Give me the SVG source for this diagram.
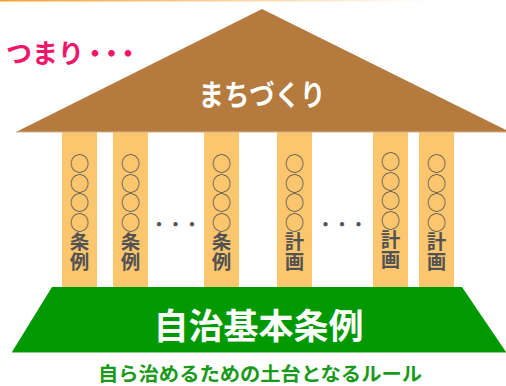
<svg xmlns="http://www.w3.org/2000/svg" width="506" height="386" viewBox="0 0 506 386">
<defs>
<linearGradient id="topline" x1="0" y1="0" x2="1" y2="0">
<stop offset="0" stop-color="#F5A034"/>
<stop offset="0.85" stop-color="#FFFFFF"/>
</linearGradient>
<style>
.jp{font-family:"Noto Sans CJK JP","Noto Sans",sans-serif;font-weight:bold;}
.pillar{fill:#FCC66E;}
.ptxt{font-family:"Noto Sans CJK JP","Noto Sans",sans-serif;font-size:19.5px;fill:#525252;writing-mode:vertical-rl;text-orientation:upright;}
.circ{font-weight:normal;}
.kanji{font-weight:bold;}
.dots{font-family:"Noto Sans CJK JP",sans-serif;font-size:16.5px;fill:#555555;text-anchor:middle;dominant-baseline:central;font-weight:bold;}
</style>
</defs>
<rect x="0" y="0" width="506" height="1.5" fill="url(#topline)"/>
<g id="tsumari">
<text class="jp" x="6" y="51" font-size="26" font-weight="900" fill="#F0166A" dominant-baseline="central">つまり<tspan dx="-2" letter-spacing="-9.5">・・・</tspan></text>
</g>
<g id="pillars">
<g id="pillar1"><rect class="pillar" x="62" y="132" width="35" height="156"/>
<text class="ptxt" x="79.5" y="154.2"><tspan class="circ">○○○○</tspan><tspan class="kanji">条例</tspan></text></g>
<g id="pillar2"><rect class="pillar" x="113" y="132" width="35" height="156"/>
<text class="ptxt" x="130.5" y="154.2"><tspan class="circ">○○○○</tspan><tspan class="kanji">条例</tspan></text></g>
<g id="pillar3"><rect class="pillar" x="204" y="132" width="35" height="156"/>
<text class="ptxt" x="221.5" y="154.2"><tspan class="circ">○○○○</tspan><tspan class="kanji">条例</tspan></text></g>
<g id="pillar4"><rect class="pillar" x="277" y="132" width="35" height="156"/>
<text class="ptxt" x="294.5" y="154.2"><tspan class="circ">○○○○</tspan><tspan class="kanji">計画</tspan></text></g>
<g id="pillar5"><rect class="pillar" x="373" y="132" width="35" height="156"/>
<text class="ptxt" x="390.5" y="152.2"><tspan class="circ">○○○○</tspan><tspan class="kanji">計画</tspan></text></g>
<g id="pillar6"><rect class="pillar" x="419" y="132" width="35" height="156"/>
<text class="ptxt" x="436.5" y="154.2"><tspan class="circ">○○○○</tspan><tspan class="kanji">計画</tspan></text></g>
</g>
<g id="ellipsis1"><text class="dots" x="175.5" y="224">・・・</text></g>
<g id="ellipsis2"><text class="dots" x="342" y="224">・・・</text></g>
<g id="roof">
<polygon points="262,9 506,130 506,132 16,132" fill="#B47A3E"/>
<line x1="16" y1="132" x2="506" y2="132" stroke="#D8B28A" stroke-width="1"/>
<text class="jp" x="262" y="93" font-size="29" fill="#FFFFFF" text-anchor="middle" dominant-baseline="central" textLength="127" lengthAdjust="spacingAndGlyphs">まちづくり</text>
</g>
<g id="base">
<polygon points="52,287 462,287 506,352 12,352" fill="#009900"/>
<line x1="12" y1="352.5" x2="506" y2="352.5" stroke="#8CCB8C" stroke-width="1"/>
<text class="jp" x="258.5" y="323" font-size="35" fill="#FFFFFF" text-anchor="middle" dominant-baseline="central">自治基本条例</text>
</g>
<g id="subtitle">
<text class="jp" x="260" y="372.5" font-size="19.5" fill="#1A9A1A" text-anchor="middle" dominant-baseline="central" textLength="324" lengthAdjust="spacingAndGlyphs">自ら治めるための土台となるルール</text>
</g>
</svg>
